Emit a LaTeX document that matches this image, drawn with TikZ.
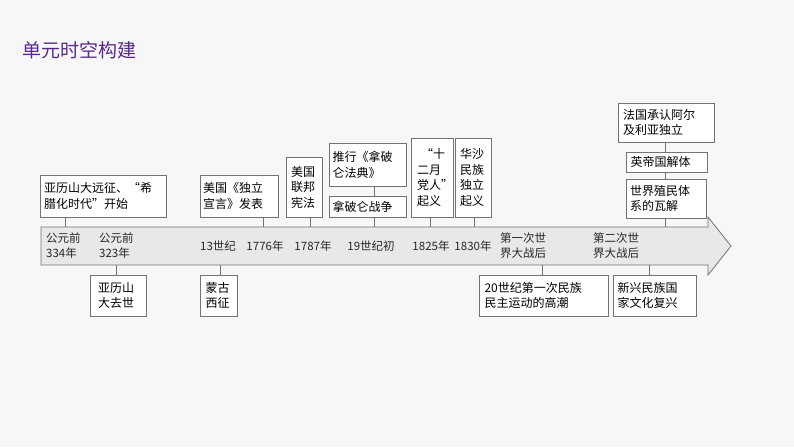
\documentclass[tikz,border=0pt]{standalone}
\usepackage{fontspec}
\setmainfont{Noto Sans CJK SC}
\newfontfamily\cjkb{Noto Sans CJK SC}
\begin{document}
\begin{tikzpicture}[x=1pt,y=-1pt,
  bx/.style={draw=black!55,fill=white,line width=0.8pt,inner sep=0pt,font=\fontsize{12}{15.5}\selectfont,align=left},
  lb/.style={font=\fontsize{11.5}{15}\selectfont,text=black!85,inner sep=0pt,align=left},
  cn/.style={draw=black!55,line width=0.8pt}]
\useasboundingbox (0,0) rectangle (794,447);
\fill[gray!6] (0,0) rectangle (794,447);
\node[anchor=west,text={rgb,255:red,88;green,40;blue,140},font=\fontsize{19}{22}\selectfont] (title) at (19,50) {单元时空构建};
% arrow
\draw[draw=black!55,fill=gray!18,line width=0.8pt] (41,227) -- (708,227) -- (708,217) -- (731,246) -- (708,275) -- (708,265) -- (41,265) -- cycle;
\coordinate (at) at (0,227); \coordinate (ab) at (0,265);
% upper boxes
\node[bx,minimum width=126,minimum height=42,text width=118] (a1) at (103,196) {亚历山大远征、“希\\腊化时代”开始};
\node[bx,minimum width=78,minimum height=42,text width=72] (a2) at (239,196) {美国《独立\\宣言》发表};
\node[bx,minimum width=36,minimum height=60,text width=26] (a3) at (304,187) {美国\\联邦\\宪法};
\node[bx,minimum width=77,minimum height=43,text width=70] (a4) at (367.5,165) {推行《拿破\\仑法典》};
\node[bx,minimum width=77,minimum height=21,text width=70] (a5) at (367.5,207) {拿破仑战争};
\node[bx,minimum width=42,minimum height=79,text width=30] (a6) at (432,177.5) {\ “十\\二月\\党人”\\起义};
\node[bx,minimum width=36,minimum height=79,text width=26] (a7) at (473,177.5) {华沙\\民族\\独立\\起义};
\node[bx,minimum width=96,minimum height=39,text width=86] (b1) at (666,122.5) {法国承认阿尔\\及利亚独立};
\node[bx,minimum width=81,minimum height=20,text width=72] (b2) at (666.5,162) {英帝国解体};
\node[bx,minimum width=80,minimum height=39,text width=72] (b3) at (666,198.5) {世界殖民体\\系的瓦解};
% lower boxes
\node[bx,minimum width=56,minimum height=41,text width=40] (c1) at (118,295.5) {亚历山\\大去世};
\node[bx,minimum width=37,minimum height=41,text width=26] (c2) at (218.5,295.5) {蒙古\\西征};
\node[bx,minimum width=129,minimum height=41,text width=118] (c3) at (543.5,295.5) {20世纪第一次民族\\民主运动的高潮};
\node[bx,minimum width=83,minimum height=41,text width=74] (c4) at (654.5,295.5) {新兴民族国\\家文化复兴};
% connectors
\draw[cn] (a1.south -| 65,0) -- (at -| 65,0);
\draw[cn] (a2.south -| 263,0) -- (at -| 263,0);
\draw[cn] (a3.south -| 310,0) -- (at -| 310,0);
\draw[cn] (a4.south -| 374,0) -- (a5.north -| 374,0);
\draw[cn] (a5.south -| 374,0) -- (at -| 374,0);
\draw[cn] (a6.south -| 430,0) -- (at -| 430,0);
\draw[cn] (a7.south -| 474,0) -- (at -| 474,0);
\draw[cn] (b1.south -| 665,0) -- (b2.north -| 665,0);
\draw[cn] (b2.south -| 665,0) -- (b3.north -| 665,0);
\draw[cn] (b3.south -| 665,0) -- (at -| 665,0);
\draw[cn] (ab -| 116,0) -- (c1.north -| 116,0);
\draw[cn] (ab -| 220,0) -- (c2.north -| 220,0);
\draw[cn] (ab -| 542,0) -- (c3.north -| 542,0);
\draw[cn] (ab -| 649,0) -- (c4.north -| 649,0);
% labels
\node[lb,anchor=west] (l1) at (46,246) {公元前\\334年};
\node[lb,anchor=west] (l2) at (99,246) {公元前\\323年};
\node[lb] (l3) at (218,246) {13世纪};
\node[lb] (l4) at (265,246) {1776年};
\node[lb] (l5) at (313,246) {1787年};
\node[lb] (l6) at (371,246) {19世纪初};
\node[lb] (l7) at (431,246) {1825年};
\node[lb] (l8) at (473,246) {1830年};
\node[lb,anchor=west] (l9) at (500,246) {第一次世\\界大战后};
\node[lb,anchor=west] (l10) at (593,246) {第二次世\\界大战后};
\end{tikzpicture}
\end{document}
